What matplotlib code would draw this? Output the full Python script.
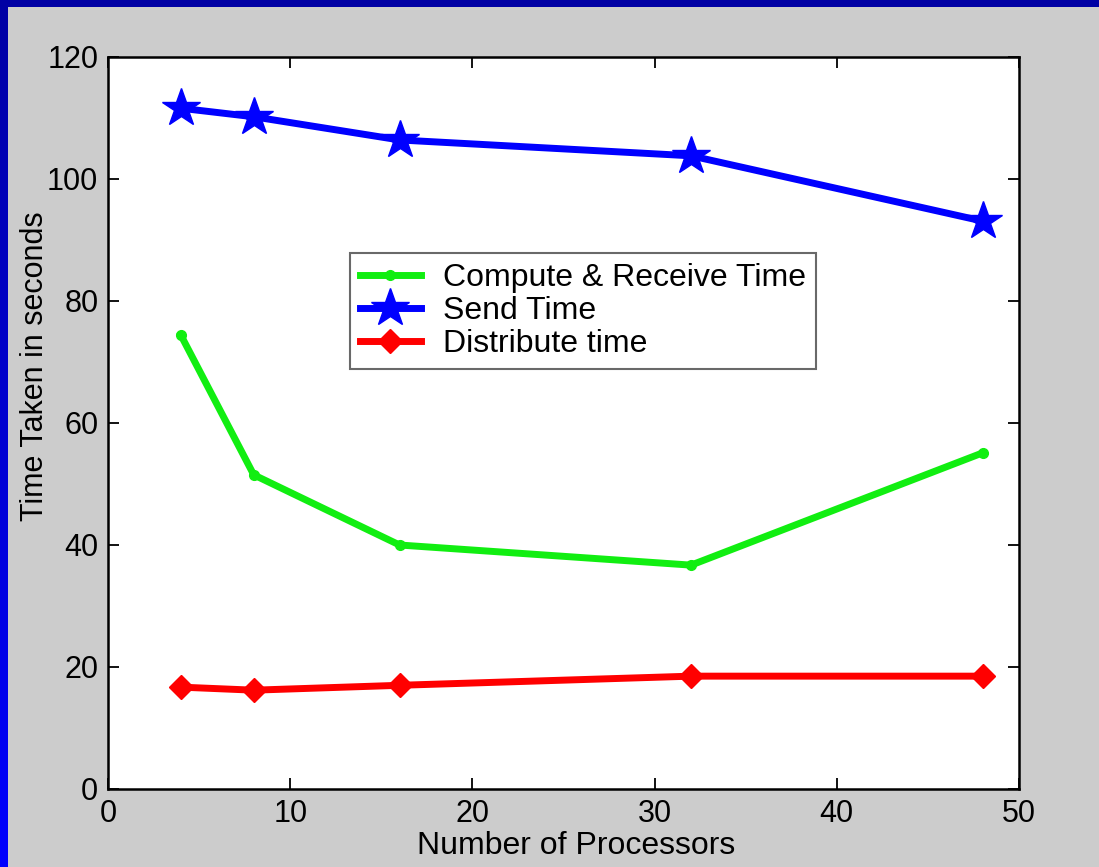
import numpy as np
import matplotlib.pyplot as plt
from matplotlib.colors import LinearSegmentedColormap

# Data
processors = [4, 8, 16, 32, 48]
compute_receive = [74.4, 51.5, 40.0, 36.7, 55.1]
send_time = [111.6, 110.2, 106.4, 103.8, 93.1]
distribute = [16.7, 16.2, 17.0, 18.5, 18.5]

x_ticks = [0, 10, 20, 30, 40, 50]
y_ticks = [0, 20, 40, 60, 80, 100, 120]

plt.rcParams['font.family'] = ['Liberation Sans', 'DejaVu Sans']

fig = plt.figure(figsize=(10.99, 8.67), dpi=100, facecolor='#cccccc')

# slide border: dark blue on top, blue gradient on the left
top = fig.add_axes([0, 1 - 7 / 867, 1, 7 / 867])
top.set_axis_off()
top.add_patch(plt.Rectangle((0, 0), 1, 1, color='#0000a4', transform=top.transAxes))
left = fig.add_axes([0, 0, 8 / 1099, 1])
grad = np.linspace(0, 1, 256).reshape(-1, 1)
cmap = LinearSegmentedColormap.from_list('slide', ['#0000ff', '#0000a4'])
left.imshow(grad, aspect='auto', cmap=cmap, origin='lower', extent=[0, 1, 0, 1])
left.set_axis_off()

ax = fig.add_axes([108 / 1099, 78 / 867, 911 / 1099, 732 / 867])
ax.set_facecolor('white')

ax.plot(processors, compute_receive, color='#11ee11', lw=5, marker='o', ms=7,
        label='Compute & Receive Time')
ax.plot(processors, send_time, color='#0000ff', lw=5, marker='*', ms=29,
        label='Send Time')
ax.plot(processors, distribute, color='#ff0000', lw=5, marker='D', ms=12,
        label='Distribute time')

ax.set_xlim(0, 50)
ax.set_ylim(0, 120)
ax.set_xticks(x_ticks)
ax.set_yticks(y_ticks)
ax.tick_params(direction='in', length=8, width=1.3, top=True, right=True,
               labelsize=22, pad=7)
for s in ax.spines.values():
    s.set_linewidth(1.8)

ax.set_xlabel('Number of Processors', fontsize=23)
ax.xaxis.set_label_coords(0.514, -0.058)
ax.set_ylabel('Time Taken in seconds', fontsize=22)
ax.yaxis.set_label_coords(-0.064, 0.578)

leg = ax.legend(loc='upper left', bbox_to_anchor=(0.266, 0.732), fontsize=23,
                frameon=True, fancybox=False, edgecolor='#444444',
                handlelength=1.9, borderpad=0.3, labelspacing=0.1,
                handletextpad=0.7, borderaxespad=0)
leg.get_frame().set_linewidth(1.5)

fig.savefig('out.png', dpi=100, facecolor=fig.get_facecolor())
